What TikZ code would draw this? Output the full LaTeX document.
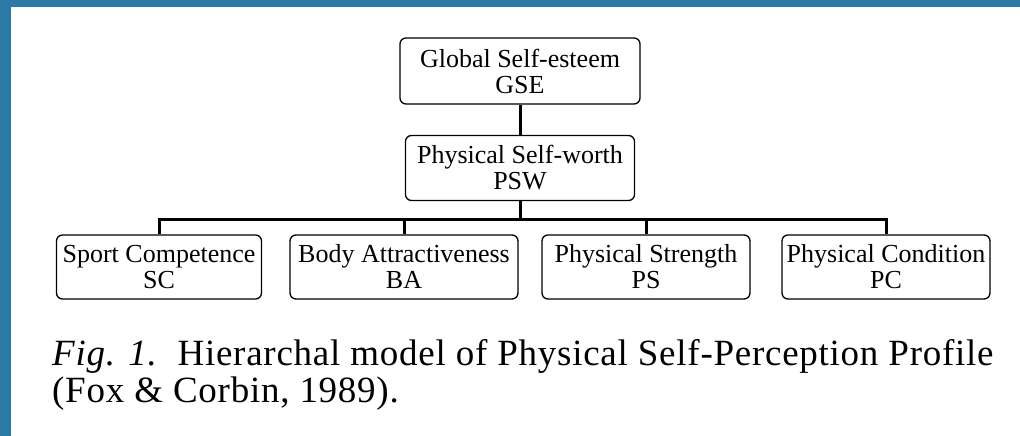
\documentclass[tikz,border=0pt]{standalone}
\usepackage{fontspec}
\setmainfont{Liberation Serif}
\newfontfamily\capfont[LetterSpace=2]{Liberation Serif}
\usepackage{xcolor}
\usetikzlibrary{positioning}
\definecolor{framebg}{RGB}{43,122,166}
\tikzset{
  box/.style={draw, line width=1.3pt, rounded corners=6pt, align=center, inner sep=0pt, font=\fontsize{26}{26}\selectfont},
  link/.style={line width=3pt},
  captext/.style={anchor=base west, inner sep=0pt, font=\capfont\fontsize{37}{37}\selectfont}
}

\begin{document}
\begin{tikzpicture}[x=1pt,y=-1pt]
\useasboundingbox (0,0) rectangle (1020,436);
\fill[framebg] (0,0) rectangle (1020,7);
\fill[framebg] (0,0) rectangle (11,436);

\node (gse) at (520,71) [box, minimum width=240pt, minimum height=66pt] {Global Self-esteem\\GSE};
\node (psw) at (520,168) [box, minimum width=229pt, minimum height=65pt] {Physical Self-worth\\PSW};
\node (sc) at (159,267) [box, minimum width=205pt, minimum height=64pt] {Sport Competence\\SC};
\node (ba) at (404,267) [box, minimum width=228pt, minimum height=64pt] {Body Attractiveness\\BA};
\node (ps) at (646,267) [box, minimum width=208pt, minimum height=64pt] {Physical Strength\\PS};
\node (pc) at (886,267) [box, minimum width=208pt, minimum height=64pt] {Physical Condition\\PC};

\coordinate (bus) at (520,219);
\draw[link] (gse) -- (psw);
\draw[link] (psw) -- (bus);
\draw[link] (sc.north) |- (pc.north |- bus) -- (pc.north);
\draw[link] (ba.north) -- (ba.north |- bus);
\draw[link] (ps.north) -- (ps.north |- bus);

\node (cap1) at (52,365) [captext] {\textit{Fig. 1.}\ \ Hierarchal model of Physical Self-Perception Profile};
\node (cap2) at (52,402) [captext] {(Fox \& Corbin, 1989).};
\end{tikzpicture}
\end{document}
